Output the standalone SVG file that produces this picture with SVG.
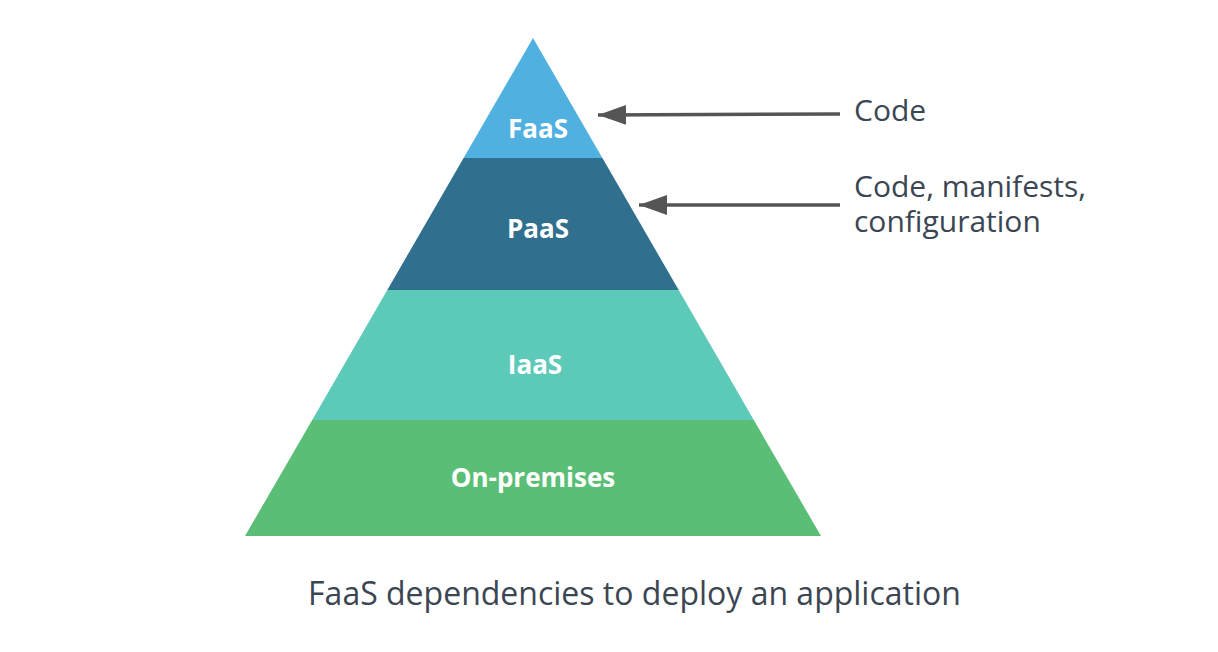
<svg xmlns="http://www.w3.org/2000/svg" width="1218" height="652" viewBox="0 0 1218 652">
<defs>
<style>
.lbl{font-family:"Open Sans","Noto Sans","Liberation Sans",sans-serif;font-weight:bold;font-size:26px;fill:#ffffff;text-anchor:middle}
.note{font-family:"Open Sans","Noto Sans","Liberation Sans",sans-serif;font-size:30px;fill:#3b4653}
.cap{font-family:"Open Sans","Noto Sans","Liberation Sans",sans-serif;font-size:32px;fill:#3b4653;text-anchor:middle}
.conn{stroke:#555555;stroke-width:3.5;fill:none}
</style>
<marker id="ah" markerUnits="userSpaceOnUse" markerWidth="30" markerHeight="22" refX="28" refY="11" orient="auto" viewBox="0 0 30 22">
<path d="M0,1 L28,11 L0,21 Z" fill="#555555"/>
</marker>
</defs>
<rect width="1218" height="652" fill="#ffffff"/>
<g id="faas">
<polygon points="533,38 602.4,158 463.6,158" fill="#50b0e0"/>
<text class="lbl" x="538" y="138">FaaS</text>
</g>
<g id="paas">
<polygon points="463.6,158 602.4,158 678.7,290 387.3,290" fill="#316f8e"/>
<text class="lbl" x="538" y="238">PaaS</text>
</g>
<g id="iaas">
<polygon points="387.3,290 678.7,290 753.8,420 312.2,420" fill="#5dc9b9"/>
<text class="lbl" x="535" y="374">IaaS</text>
</g>
<g id="onprem">
<polygon points="312.2,420 753.8,420 821,536 245,536" fill="#5bbe76"/>
<text class="lbl" x="533" y="487">On-premises</text>
</g>
<g id="connectors">
<line class="conn" x1="840" y1="114" x2="598" y2="115" marker-end="url(#ah)"/>
<line class="conn" x1="840" y1="205" x2="639" y2="205" marker-end="url(#ah)"/>
</g>
<g id="code">
<text class="note" x="854" y="121">Code</text>
</g>
<g id="code-manifests">
<text class="note" x="854" y="197">Code, manifests,<tspan x="854" y="232">configuration</tspan></text>
</g>
<g id="caption">
<text class="cap" x="634.5" y="605">FaaS dependencies to deploy an application</text>
</g>
</svg>
